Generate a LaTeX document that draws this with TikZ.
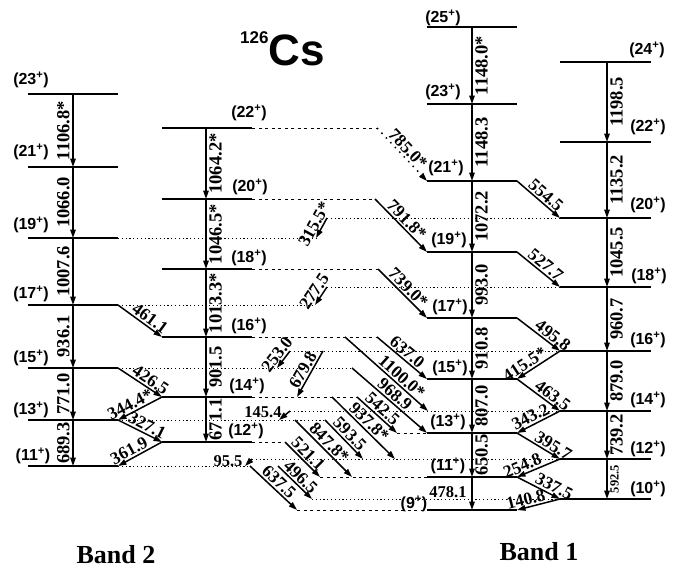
\documentclass[tikz,border=0pt]{standalone}
\usepackage{fontspec}
\setmainfont{Liberation Serif}
\newfontfamily\arialf{Liberation Sans}
\usetikzlibrary{arrows.meta}
\newcommand\mklev[5]{%
  \coordinate (#1l) at (#2,#5);
  \coordinate (#1m) at (#3,#5);
  \coordinate (#1r) at (#4,#5);
  \draw[lev] (#1l) -- (#1r);}
\newcommand\spn[1]{(#1\textsuperscript{+})}
\begin{document}
\begin{tikzpicture}[x=1pt,y=-1pt,
  lev/.style={line width=2.6pt},
  tr/.style={line width=1.5pt,-{Triangle[length=8.5pt,width=5.5pt]}},
  dt/.style={line width=0.8pt,dash pattern=on 1.2pt off 2.6pt},
  ds/.style={line width=0.9pt,dash pattern=on 3pt off 3.5pt},
  spin/.style={font=\arialf\bfseries\fontsize{16}{16}\selectfont, inner sep=0pt},
  en/.style={font=\bfseries\fontsize{17.5}{17.5}\selectfont, inner sep=1.5pt},
  ven/.style={font=\bfseries\fontsize{18.5}{18.5}\selectfont, inner sep=2.5pt},
  vl/.style={ven, midway, rotate=90, above},
  vr/.style={ven, midway, rotate=90, below},
  dl/.style={en, midway, sloped, above},
  hl/.style={font=\bfseries\fontsize{16.5}{16.5}\selectfont, inner sep=0pt},
]
\useasboundingbox (0,0) rectangle (681,571);

% ---------------- levels ----------------
% Band 2, odd spins
\mklev{a23}{28}{73}{118}{94}
\mklev{a21}{28}{73}{118}{167}
\mklev{a19}{28}{73}{118}{238}
\mklev{a17}{28}{73}{118}{305}
\mklev{a15}{28}{73}{118}{368}
\mklev{a13}{28}{73}{118}{420}
\mklev{a11}{28}{73}{118}{466}
% Band 2, even spins
\mklev{b22}{162}{206}{252}{128}
\mklev{b20}{162}{206}{252}{199}
\mklev{b18}{162}{206}{252}{269}
\mklev{b16}{162}{206}{252}{337}
\mklev{b14}{162}{206}{252}{397}
\mklev{b12}{162}{206}{252}{442}
% Band 1, odd spins
\mklev{c25}{427}{472}{517}{27}
\mklev{c23}{427}{472}{517}{104}
\mklev{c21}{427}{472}{517}{181}
\mklev{c19}{427}{472}{517}{252}
\mklev{c17}{427}{472}{517}{318}
\mklev{c15}{427}{472}{517}{379}
\mklev{c13}{427}{472}{517}{433}
\mklev{c11}{427}{472}{517}{477}
\mklev{c9}{427}{472}{517}{510}
% Band 1, even spins
\mklev{d24}{560}{607}{651}{62}
\mklev{d22}{560}{607}{651}{142}
\mklev{d20}{560}{607}{651}{218}
\mklev{d18}{560}{607}{651}{287}
\mklev{d16}{560}{607}{651}{351}
\mklev{d14}{560}{607}{651}{411}
\mklev{d12}{560}{607}{651}{459}
\mklev{d10}{560}{607}{651}{499}

% ---------------- spin labels ----------------
\node[spin] (la23) at (31,80) {\spn{23}};
\node[spin] (la21) at (31,152) {\spn{21}};
\node[spin] (la19) at (31,225) {\spn{19}};
\node[spin] (la17) at (31,294) {\spn{17}};
\node[spin] (la15) at (31,358) {\spn{15}};
\node[spin] (la13) at (31,410) {\spn{13}};
\node[spin] (la11) at (33,456) {\spn{11}};
\node[spin] (lb22) at (249,113) {\spn{22}};
\node[spin] (lb20) at (250,187) {\spn{20}};
\node[spin] (lb18) at (249,258) {\spn{18}};
\node[spin] (lb16) at (249,326) {\spn{16}};
\node[spin] (lb14) at (247,386) {\spn{14}};
\node[spin] (lb12) at (246,431) {\spn{12}};
\node[spin] (lc25) at (443,18) {\spn{25}};
\node[spin] (lc23) at (443,92) {\spn{23}};
\node[spin] (lc21) at (446,168) {\spn{21}};
\node[spin] (lc19) at (449,240) {\spn{19}};
\node[spin] (lc17) at (450,307) {\spn{17}};
\node[spin] (lc15) at (450,368) {\spn{15}};
\node[spin] (lc13) at (448,422) {\spn{13}};
\node[spin] (lc11) at (448,466) {\spn{11}};
\node[spin] (lc9) at (414,504) {\spn{9}};
\node[spin] (ld24) at (647,50) {\spn{24}};
\node[spin] (ld22) at (648,127) {\spn{22}};
\node[spin] (ld20) at (648,205) {\spn{20}};
\node[spin] (ld18) at (649,276) {\spn{18}};
\node[spin] (ld16) at (648,340) {\spn{16}};
\node[spin] (ld14) at (648,400) {\spn{14}};
\node[spin] (ld12) at (648,449) {\spn{12}};
\node[spin] (ld10) at (648,489) {\spn{10}};

% ---------------- in-band E2 cascades ----------------
\draw[tr] (a23m) -- node[vl] {1106.8*} (a21m);
\draw[tr] (a21m) -- node[vl] {1066.0} (a19m);
\draw[tr] (a19m) -- node[vl] {1007.6} (a17m);
\draw[tr] (a17m) -- node[vl] {936.1} (a15m);
\draw[tr] (a15m) -- node[vl] {771.0} (a13m);
\draw[tr] (a13m) -- node[vl] {689.3} (a11m);

\draw[tr] (b22m) -- node[vr] {1064.2*} (b20m);
\draw[tr] (b20m) -- node[vr] {1046.5*} (b18m);
\draw[tr] (b18m) -- node[vr] {1013.3*} (b16m);
\draw[tr] (b16m) -- node[vr] {901.5} (b14m);
\draw[tr] (b14m) -- node[vr] {671.1} (b12m);

\draw[tr] (c25m) -- node[vr] {1148.0*} (c23m);
\draw[tr] (c23m) -- node[vr] {1148.3} (c21m);
\draw[tr] (c21m) -- node[vr] {1072.2} (c19m);
\draw[tr] (c19m) -- node[vr] {993.0} (c17m);
\draw[tr] (c17m) -- node[vr] {910.8} (c15m);
\draw[tr] (c15m) -- node[vr] {807.0} (c13m);
\draw[tr] (c13m) -- node[vr] {650.5} (c11m);
\draw[tr] (c11m) -- (c9m);
\node[hl] (t4781) at (448,492) {478.1};

\draw[tr] (d24m) -- node[vr] {1198.5} (d22m);
\draw[tr] (d22m) -- node[vr] {1135.2} (d20m);
\draw[tr] (d20m) -- node[vr] {1045.5} (d18m);
\draw[tr] (d18m) -- node[vr] {960.7} (d16m);
\draw[tr] (d16m) -- node[vr] {879.0} (d14m);
\draw[tr] (d14m) -- node[vr] {739.2} (d12m);
\draw[tr] (d12m) -- node[vr, font=\bfseries\fontsize{12.5}{12.5}\selectfont] {592.5} (d10m);

% ---------------- in-band M1 zig-zags ----------------
\draw[tr] (a17r) -- node[dl, pos=0.62] {461.1} (b16l);
\draw[tr] (a15r) -- node[dl, pos=0.64] {426.5} (b14l);
\draw[tr] (b14l) -- node[dl, pos=0.64] {344.4*} (a13r);
\draw[tr] (a13r) -- node[dl, pos=0.58] {327.1} (b12l);
\draw[tr] (b12l) -- node[dl, pos=0.66] {361.9} (a11r);

\draw[tr] (c21r) -- node[dl, pos=0.55] {554.5} (d20l);
\draw[tr] (c19r) -- node[dl, pos=0.55] {527.7} (d18l);
\draw[tr] (c17r) -- node[dl, pos=0.72] {495.8} (d16l);
\draw[tr] (d16l) -- node[dl, pos=0.72] {415.5*} (c15r);
\draw[tr] (c15r) -- node[dl, pos=0.72] {463.5} (d14l);
\draw[tr] (d14l) -- node[dl, pos=0.6] {343.2} (c13r);
\draw[tr] (c13r) -- node[dl, pos=0.75] {395.7} (d12l);
\draw[tr] (d12l) -- node[dl, pos=0.8] {254.8} (c11r);
\draw[tr] (c11r) -- node[dl, pos=0.78] {337.5} (d10l);
\draw[tr] (d10l) -- node[dl, pos=0.75] {140.8} (c9r);

% ---------------- linking coordinates ----------------
\coordinate (e22) at (377,128);
\coordinate (e20) at (375,199);
\coordinate (e18) at (378,269);
\coordinate (f19) at (316,238);
\coordinate (g20) at (327,218);
\coordinate (f17) at (315,305);
\coordinate (g18) at (327,287);
\coordinate (e16) at (377,337);
\coordinate (e16b) at (345,337);
\coordinate (h14) at (428,411);
\coordinate (g16) at (290,351);
\coordinate (g16b) at (323,351);
\coordinate (f15) at (277,368);
\coordinate (f15b) at (352,368);
\coordinate (e14) at (357,397);
\coordinate (e14a) at (297,397);
\coordinate (e14b) at (332,397);
\coordinate (h13) at (397,433);
\coordinate (h12) at (395,459);
\coordinate (h12b) at (363,459);
\coordinate (g14) at (290,411);
\coordinate (f13) at (325,420);
\coordinate (f13a) at (279,420);
\coordinate (f13b) at (295,420);
\coordinate (e12) at (285,442);
\coordinate (h11) at (352,477);
\coordinate (h11b) at (320,477);
\coordinate (g12) at (252,459);
\coordinate (f11) at (250,466);
\coordinate (f11a) at (245,466);
\coordinate (f11b) at (278,466);
\coordinate (h10) at (312,499);
\coordinate (h9) at (297,510);

% ---------------- level extensions ----------------
\draw[ds] (b22r) -- (e22);
\draw[ds] (b20r) -- (e20);
\draw[ds] (b18r) -- (e18);
\draw[dt] (a19r) -- (f19);
\draw[dt] (g20) -- (d20l);
\draw[dt] (a17r) -- (f17);
\draw[dt] (g18) -- (d18l);
\draw[ds] (b16r) -- (e16);
\draw[dt] (g16) -- (d16l);
\draw[dt] (a15r) -- (f15b);
\draw[ds] (b14r) -- (e14);
\draw[dt] (g14) -- (d14l);
\draw[dt] (a13r) -- (f13);
\draw[ds] (h13) -- (c13l);
\draw[ds] (b12r) -- (e12);
\draw[dt] (g12) -- (d12l);
\draw[dt] (a11r) -- (f11);
\draw[ds] (h11b) -- (c11l);
\draw[dt] (h10) -- (d10l);
\draw[ds] (h9) -- (c9l);

% ---------------- linking transitions ----------------
\draw[tr, dash pattern=on 1.5pt off 5pt] (e22) -- node[dl] {785.0*} (c21l);
\draw[tr] (e20) -- node[dl] {791.8*} (c19l);
\draw[tr] (e18) -- node[dl] {739.0*} (c17l);
\draw[tr] (g20) -- node[dl] {315.5*} (f19);
\draw[tr] (g18) -- node[dl] {277.5} (f17);
\draw[tr] (e16) -- node[dl] {637.0} (c15l);
\draw[tr] (e16b) -- node[dl, pos=0.62] {1100.0*} (h14);
\draw[tr] (g16) -- node[dl] {253.0} (f15);
\draw[tr] (g16b) -- node[dl] {679.8} (e14a);
\draw[tr] (f15b) -- node[dl] {968.9} (c13l);
\draw[tr] (e14) -- node[dl] {542.5} (h13);
\draw[tr] (e14b) -- node[dl] {937.8*} (h12);
\draw[tr] (g14) -- (f13a);
\node[hl] (t1454) at (263,412) {145.4};
\draw[tr] (f13) -- node[dl] {593.5} (h12b);
\draw[tr] (f13b) -- node[dl] {847.8*} (h11);
\draw[tr] (e12) -- node[dl] {521.1} (h11b);
\draw[tr] (g12) -- (f11a);
\node[hl] (t955) at (228,461) {95.5};
\draw[tr] (f11b) -- node[dl] {496.5} (h10);
\draw[tr] (f11) -- node[dl] {637.5} (h9);

% ---------------- titles ----------------
\node[anchor=base west, inner sep=0pt, font=\arialf\bfseries] (title) at (240,65)
  {\raisebox{22pt}{\fontsize{17}{17}\selectfont 126}\fontsize{44}{44}\selectfont Cs};
\node[font=\bfseries\fontsize{26}{26}\selectfont] (band2) at (116,555) {Band 2};
\node[font=\bfseries\fontsize{26}{26}\selectfont] (band1) at (539,552) {Band 1};
\end{tikzpicture}
\end{document}
